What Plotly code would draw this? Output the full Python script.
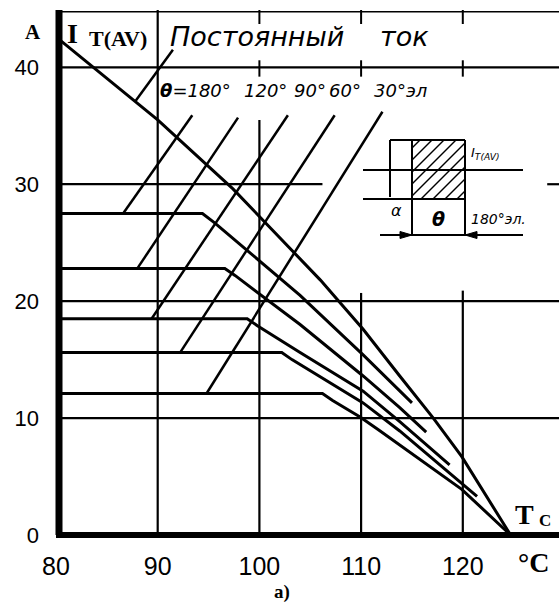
import plotly.graph_objects as go

# ---------------- data ----------------
x_ticks = [80, 90, 100, 110, 120]
y_ticks = [0, 10, 20, 30, 40]
x_tick_labels = ["80", "90", "100", "110", "120"]
y_tick_labels = ["0", "10", "20", "30", "40"]

# DC ("Постоянный ток")
tc_dc = [80, 90, 97.4, 100.3, 103.3, 106.0, 108.0, 110.2, 113.8, 117.1, 119.9, 124.7]
i_dc = [42.6, 35.5, 29.6, 27.0, 24.3, 21.8, 19.8, 17.6, 13.6, 10.0, 6.7, 0.0]
# theta = 180
tc_180 = [80, 94.4, 95.6, 104.0, 110.2, 113.8, 115.0]
i_180 = [27.5, 27.5, 26.7, 20.5, 15.4, 12.3, 11.3]
# theta = 120
tc_120 = [80, 96.6, 97.6, 104.0, 110.2, 113.8, 116.4]
i_120 = [22.8, 22.8, 22.2, 18.0, 13.6, 10.9, 8.8]
# theta = 90
tc_90 = [80, 98.8, 99.8, 104.0, 110.2, 113.8, 118.7]
i_90 = [18.5, 18.5, 17.9, 15.6, 12.3, 9.7, 6.0]
# theta = 60
tc_60 = [80, 102.2, 103.2, 110.2, 113.8, 121.4]
i_60 = [15.6, 15.6, 15.0, 11.3, 8.9, 3.3]
# theta = 30
tc_30 = [80, 106.2, 107.2, 109.9, 111.7, 113.8, 119.9, 124.7]
i_30 = [12.1, 12.1, 11.5, 10.1, 9.0, 7.7, 3.9, 0.0]

# leader lines from labels to curves: (x0, y0, x1, y1)
leader_dc = [87.8, 37.1, 91.5, 41.5]
leader_180 = [86.6, 27.5, 93.4, 35.9]
leader_120 = [88.0, 22.8, 97.9, 35.7]
leader_90 = [89.4, 18.5, 102.8, 35.9]
leader_60 = [92.2, 15.6, 107.4, 35.9]
leader_30 = [94.8, 12.1, 112.1, 36.2]

# ---------------- layout geometry ----------------
W, H = 559, 607
ML, MR, MT, MB = 56, 0, 10, 72
X_MAX = 80 + (W - ML - MR) / 10.17
Y_MAX = 44.9
PW, PH = W - ML - MR, H - MT - MB


def P(px, py):
    """pixel -> paper coordinates"""
    return (px - ML) / PW, (H - MB - py) / PH


fig = go.Figure()

curves = [(tc_dc, i_dc), (tc_180, i_180), (tc_120, i_120),
          (tc_90, i_90), (tc_60, i_60), (tc_30, i_30)]
for xs, ys in curves:
    fig.add_trace(go.Scatter(x=xs, y=ys, mode="lines",
                             line=dict(color="black", width=3),
                             hoverinfo="skip", showlegend=False))

for ld in [leader_dc, leader_180, leader_120, leader_90, leader_60, leader_30]:
    fig.add_trace(go.Scatter(x=[ld[0], ld[2]], y=[ld[1], ld[3]], mode="lines",
                             line=dict(color="black", width=2.5),
                             hoverinfo="skip", showlegend=False))

shapes = []
blk = "black"


def dline(x0, y0, x1, y1, w=2.2):
    shapes.append(dict(type="line", xref="x", yref="y", x0=x0, y0=y0, x1=x1, y1=y1,
                       line=dict(color=blk, width=w), layer="below"))


def pline(px0, py0, px1, py1, w=2.0):
    a = P(px0, py0)
    b = P(px1, py1)
    shapes.append(dict(type="line", xref="paper", yref="paper",
                       x0=a[0], y0=a[1], x1=b[0], y1=b[1],
                       line=dict(color=blk, width=w)))


# vertical grid lines (some only partially drawn in the original)
v_extent = {90: Y_MAX, 100: 35.5, 110: 20.7, 120: 20.9}
for xv in x_ticks[1:]:
    dline(xv, 0, xv, v_extent[xv])
    if v_extent[xv] < 40:
        dline(xv, 39.2, xv, 40.6, 2.0)
        dline(xv, 43.7, xv, Y_MAX, 2.0)

# horizontal grid lines
for yv in y_ticks[1:]:
    if yv == 30:
        dline(80, yv, 106.2, yv)
        dline(128.3, yv, X_MAX, yv)
    else:
        dline(80, yv, X_MAX, yv)
# top border
dline(80, 44.75, X_MAX, 44.75, 1.6)

# thick axis lines
pline(59, 535, 59, 10, 7)
pline(56, 535, 559, 535, 6)

# ---------------- inset diagram ----------------
pline(390, 140, 465, 140)
pline(390, 140, 390, 197)
pline(412, 140, 412, 236)
pline(465, 140, 465, 236)
pline(363, 170, 523, 170)
pline(363, 199, 465, 199)
pline(380, 235, 523, 235)
# hatching
hx0, hx1, hy0, hy1 = 412, 465, 140, 199
for c in range(560, 665, 12):
    xa = max(hx0, c - hy1)
    xb = min(hx1, c - hy0)
    if xb > xa:
        pline(xa, c - xa, xb, c - xb, 1.4)


def tri(pts):
    q = [P(*p) for p in pts]
    path = "M {} {} L {} {} L {} {} Z".format(q[0][0], q[0][1], q[1][0], q[1][1], q[2][0], q[2][1])
    shapes.append(dict(type="path", xref="paper", yref="paper", path=path,
                       fillcolor=blk, line=dict(color=blk, width=1)))


tri([(400, 231.5), (412, 235), (400, 238.5)])
tri([(477, 231.5), (465, 235), (477, 238.5)])

# ---------------- texts ----------------
ann = []


def text(s, px, py, size, family="Liberation Serif", weight="normal", style="normal",
         xanchor="center", yanchor="middle"):
    x, y = P(px, py)
    ann.append(dict(text=s, x=x, y=y, xref="paper", yref="paper", showarrow=False,
                    xanchor=xanchor, yanchor=yanchor,
                    font=dict(family=family, size=size, color="black",
                              weight=weight, style=style)))


text("A", 33, 32, 21, weight="bold")
text("I", 72, 33, 28, weight="bold")
text("T(AV)", 87, 38, 22, weight="bold", xanchor="left")
text("Постоянный", 168, 36, 27, family="DejaVu Sans", style="italic", xanchor="left")
text("ток", 378, 36, 27, family="DejaVu Sans", style="italic", xanchor="left")

text("<b>θ</b>=180°", 158, 91, 18, family="DejaVu Sans", style="italic", xanchor="left")
text("120°", 242, 91, 18, family="DejaVu Sans", style="italic", xanchor="left")
text("90°", 292, 91, 18, family="DejaVu Sans", style="italic", xanchor="left")
text("60°", 327, 91, 18, family="DejaVu Sans", style="italic", xanchor="left")
text("30°эл", 372, 91, 18, family="DejaVu Sans", style="italic", xanchor="left")

text("I<sub>T(AV)</sub>", 469, 153, 13, family="DejaVu Sans", style="italic", xanchor="left")
text("α", 396, 210, 16, family="DejaVu Sans", style="italic")
text("θ", 438, 219, 19, family="DejaVu Sans", weight="bold", style="italic")
text("180°эл.", 469, 219, 14, family="DejaVu Sans", style="italic", xanchor="left")

text("T", 524, 514, 28, weight="bold")
text("C", 545, 520, 17, weight="bold")
text("°C", 533, 562, 28, weight="bold")
text("a)", 282, 592, 19, weight="bold")

fig.update_layout(
    width=W, height=H,
    margin=dict(l=ML, r=MR, t=MT, b=MB, pad=0),
    paper_bgcolor="white", plot_bgcolor="white",
    shapes=shapes, annotations=ann, showlegend=False,
    xaxis=dict(range=[80, X_MAX], tickvals=x_ticks, ticktext=x_tick_labels,
               showgrid=False, zeroline=False, showline=False, ticks="",
               ticklabelstandoff=14,
               tickfont=dict(family="Liberation Sans", size=25, color="black"),
               fixedrange=True),
    yaxis=dict(range=[0, Y_MAX], tickvals=y_ticks, ticktext=y_tick_labels,
               showgrid=False, zeroline=False, showline=False, ticks="",
               ticklabelstandoff=16,
               tickfont=dict(family="Liberation Sans", size=22, color="black"),
               fixedrange=True),
)

fig.write_html("out.html", config={"staticPlot": True},
               post_script="document.body.style.margin='0';document.body.style.padding='0';")
